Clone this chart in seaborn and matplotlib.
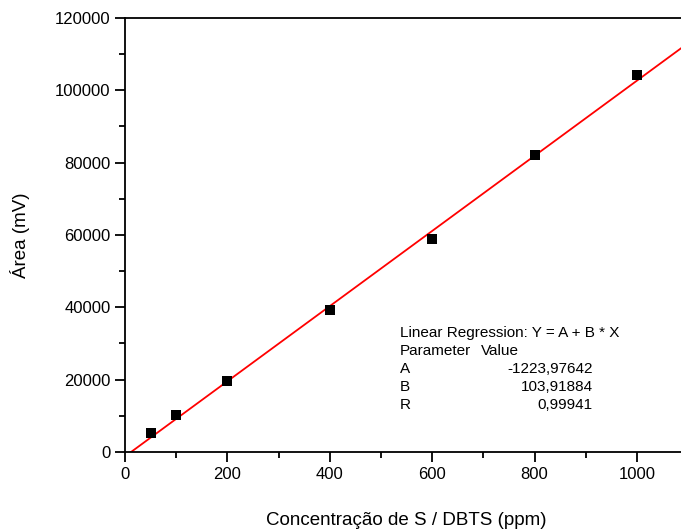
import numpy as np
import pandas as pd
import matplotlib.pyplot as plt
import seaborn as sns
from matplotlib.ticker import MultipleLocator

# calibration data
conc = [50, 100, 200, 400, 600, 800, 1000]
area = [5200, 10200, 19500, 39200, 59000, 82200, 104200]

# regression parameters as reported
A = -1223.97642
B = 103.91884
R = 0.99941

sns.set_style("ticks")
plt.rcParams['font.family'] = ['Liberation Sans', 'DejaVu Sans']
plt.rcParams['text.color'] = 'black'
plt.rcParams['axes.labelcolor'] = 'black'
plt.rcParams['xtick.color'] = 'black'
plt.rcParams['ytick.color'] = 'black'
plt.rcParams['axes.edgecolor'] = 'black'

df = pd.DataFrame({'conc': conc, 'area': area})
x_fit = np.linspace(0, 1100, 50)
fit = pd.DataFrame({'conc': x_fit, 'area': A + B * x_fit})

fig = plt.figure(figsize=(6.81, 5.31), dpi=100)
ax = fig.add_axes([0.1836, 0.1488, 0.827, 0.8173])

sns.lineplot(data=fit, x='conc', y='area', color='red', linewidth=1.3, ax=ax)
sns.scatterplot(data=df, x='conc', y='area', marker='s', color='black',
                s=55, edgecolor='black', linewidth=0, ax=ax, zorder=3)

ax.set_xlim(0, 1100)
ax.set_ylim(0, 120000)
ax.xaxis.set_major_locator(MultipleLocator(200))
ax.xaxis.set_minor_locator(MultipleLocator(100))
ax.yaxis.set_major_locator(MultipleLocator(20000))
ax.yaxis.set_minor_locator(MultipleLocator(10000))
ax.tick_params(which='major', length=7, width=1.3, labelsize=12, direction='out')
ax.tick_params(which='minor', length=4, width=1.3, direction='out')
for side in ['left', 'bottom', 'top']:
    ax.spines[side].set_linewidth(1.3)
    ax.spines[side].set_visible(True)
ax.spines['right'].set_visible(False)

ax.set_xlabel('Concentração de S / DBTS (ppm)', fontsize=13.5, labelpad=22)
ax.set_ylabel('Área (mV)', fontsize=13.5, labelpad=18)

# regression table
fs = 11
rows = [('Parameter', 'Value'), ('A', f'{A:.5f}'.replace('.', ',')),
        ('B', f'{B:.5f}'.replace('.', ',')), ('R', f'{R:.5f}'.replace('.', ','))]
fig.text(400 / 681, 1 - 333 / 531, 'Linear Regression: Y = A + B * X',
         fontsize=fs, va='center', ha='left')
y0 = 351
for i, (p, v) in enumerate(rows):
    yy = 1 - (y0 + i * 18) / 531
    fig.text(400 / 681, yy, p, fontsize=fs, va='center', ha='left')
    if i == 0:
        fig.text(481 / 681, yy, v, fontsize=fs, va='center', ha='left')
    else:
        fig.text(593 / 681, yy, v, fontsize=fs, va='center', ha='right')

fig.savefig('out.png', dpi=100)
